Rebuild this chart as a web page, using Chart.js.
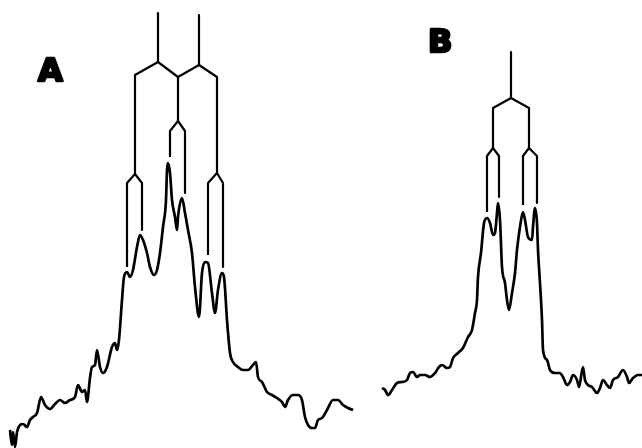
<!DOCTYPE html>
<html>
<head>
    <title>Spectra A and B</title>
    <script src="https://cdn.jsdelivr.net/npm/chart.js@4.4.1/dist/chart.umd.min.js"></script>
    <style>
        body { margin: 0; background: #fff; }
        #wrap { width: 642px; height: 448px; }
    </style>
</head>
<body>
    <div id="wrap"><canvas id="myChart" width="642" height="448"></canvas></div>

    <script>
        // spectrum A: position / intensity
        const specAX = [10,12,13,15,17,20,23,27,30,33,37,41,45,50,55,60,65,70,75,78,
            82,85,87,90,92,95,97,100,103,107,112,115,117,119,122,124,127,130,133,137,
            140,143,147,150,154,157,160,163,166,167,168,170,172,175,177,178,182,185,188,192,
            195,199,202,205,208,212,215,218,222,224,227,230,233,238,243,248,253,256,258,262,
            267,272,277,282,285,288,293,298,302,305,308,312,315,318,322,327,333,338,343,348,353];
        const specAY = [18,3,16,1,16,23,24,21,28,31,35,51,43,39,44,48,45,48,51,63,
            56,58,46,70,81,83,98,81,75,81,101,105,98,108,148,171,176,171,178,201,
            213,208,195,181,173,178,195,221,248,278,285,275,248,231,218,231,250,235,218,195,
            161,131,175,186,185,155,135,158,175,171,128,95,86,81,78,78,83,86,71,66,
            56,53,50,46,41,48,53,53,48,31,23,20,20,28,30,38,48,48,43,40,38];

        // spectrum B
        const specBX = [382,385,388,392,397,402,407,410,413,417,420,425,430,435,439,442,447,450,453,458,
            463,468,472,475,477,478,481,484,487,490,493,495,497,498,500,502,505,507,509,512,
            515,517,520,523,525,528,532,533,535,537,538,540,542,543,547,550,555,560,563,567,
            570,573,577,579,583,585,588,592,597,600,603,607,610,613,618,623,627,629,633,638,642];
        const specBY = [60,58,53,58,65,66,68,75,76,71,73,73,71,75,81,83,80,81,90,95,
            100,111,118,135,148,171,195,225,230,225,213,215,235,245,228,181,165,148,138,155,
            175,198,221,236,228,211,208,221,240,225,198,165,128,98,88,78,75,75,71,63,
            66,73,68,61,81,68,63,61,55,60,68,63,60,68,71,78,71,65,70,73,73];

        // splitting trees, one path per list of [position, height]
        const treeA = [
            [[158,435],[158,386]],
            [[199,433],[199,383]],
            [[135,274],[135,373],[158,386],[178,371],[199,383],[217,371],[217,275]],
            [[178,371],[178,327]],
            [[127,181],[127,265],[135,274],[142,265],[142,218]],
            [[170,291],[170,317],[178,327],[185,317],[185,255]],
            [[208,193],[208,265],[217,275],[223,265],[223,181]]
        ];
        const treeB = [
            [[511,396],[511,350]],
            [[493,300],[493,340],[511,350],[529,340],[529,300]],
            [[487,236],[487,292],[493,300],[499,292],[499,251]],
            [[523,243],[523,292],[529,300],[537,292],[537,245]]
        ];

        const panelLabels = ['A', 'B'];
        const labelX = [38, 428];
        const labelY = [367, 396];

        function toPoints(xs, ys) {
            return xs.map(function (x, i) { return { x: x, y: ys[i] }; });
        }

        let datasets = [
            { data: toPoints(specAX, specAY), borderWidth: 2.7, cubicInterpolationMode: 'monotone' },
            { data: toPoints(specBX, specBY), borderWidth: 2.7, cubicInterpolationMode: 'monotone' }
        ];
        treeA.concat(treeB).forEach(function (path) {
            datasets.push({
                data: path.map(function (p) { return { x: p[0], y: p[1] }; }),
                borderWidth: 2.2,
                tension: 0
            });
        });
        datasets.forEach(function (d) {
            d.showLine = true;
            d.pointRadius = 0;
            d.borderColor = '#000';
            d.backgroundColor = '#000';
            d.fill = false;
            d.clip = false;
            d.borderJoinStyle = 'round';
            d.borderCapStyle = 'butt';
        });

        // heavy panel letters, stroked to look like the blackened originals
        const panelText = {
            id: 'panelText',
            afterDatasetsDraw(chart) {
                const ctx = chart.ctx;
                const xs = chart.scales.x, ys = chart.scales.y;
                ctx.save();
                ctx.fillStyle = '#000';
                ctx.strokeStyle = '#000';
                ctx.lineWidth = 2.5;
                ctx.lineJoin = 'round';
                ctx.font = 'bold 32px "DejaVu Sans"';
                ctx.textBaseline = 'alphabetic';
                for (let i = 0; i < panelLabels.length; i++) {
                    let px = xs.getPixelForValue(labelX[i]);
                    let py = ys.getPixelForValue(labelY[i]);
                    ctx.fillText(panelLabels[i], px, py);
                    ctx.strokeText(panelLabels[i], px, py);
                }
                ctx.restore();
            }
        };

        const ctx = document.getElementById('myChart');
        const myChart = new Chart(ctx, {
            type: 'scatter',
            data: { datasets: datasets },
            options: {
                responsive: false,
                animation: false,
                layout: { padding: 0 },
                plugins: { legend: { display: false }, tooltip: { enabled: false } },
                scales: {
                    x: { type: 'linear', min: 0, max: 642, display: false },
                    y: { type: 'linear', min: 0, max: 448, display: false }
                }
            },
            plugins: [panelText]
        });
    </script>
</body>
</html>
